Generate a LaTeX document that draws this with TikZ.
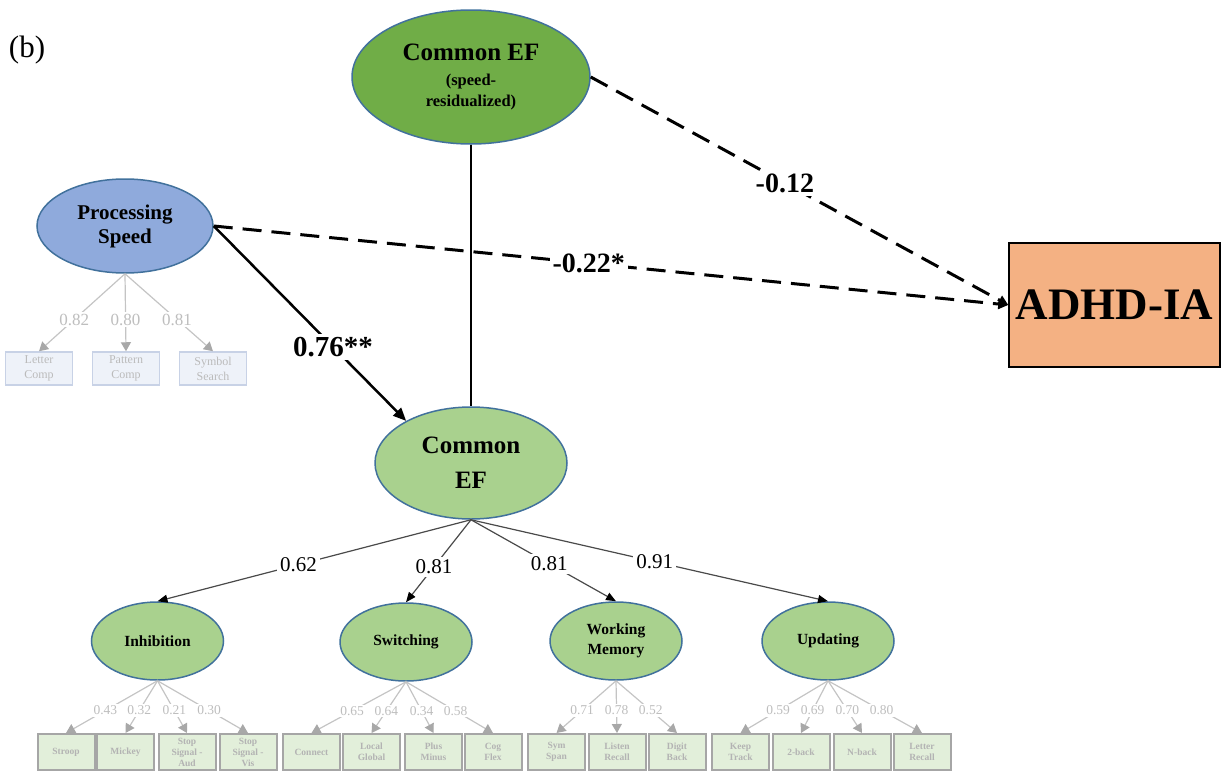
\documentclass[tikz,border=0pt]{standalone}
\usepackage{fontspec}
\setmainfont{Liberation Serif}
\usetikzlibrary{shapes.geometric,arrows.meta}
\definecolor{ebord}{HTML}{41719C}
\definecolor{gdark}{HTML}{70AD47}
\definecolor{glight}{HTML}{A9D18E}
\definecolor{pblue}{HTML}{8FAADC}
\definecolor{orng}{HTML}{F4B183}
\definecolor{ibox}{HTML}{E2EFDA}
\definecolor{iboxd}{HTML}{A6A6A6}
\definecolor{itext}{HTML}{B3B3B3}
\definecolor{gline}{HTML}{C4C4C4}
\definecolor{gtip}{HTML}{A8A8A8}
\definecolor{pbox}{HTML}{EEF2F9}
\definecolor{pboxd}{HTML}{C8D2E6}
\definecolor{sline}{HTML}{4A4A4A}
\begin{document}
\begin{tikzpicture}[x=1pt,y=-1pt,
  lat/.style={ellipse, draw=ebord, line width=1.5pt, inner sep=0pt, align=center},
  sublat/.style={lat, fill=glight, minimum width=132pt, minimum height=78pt, font=\fontsize{15.5}{20}\selectfont\bfseries},
  indbox/.style={rectangle, draw=iboxd, fill=ibox, line width=2pt, minimum width=57pt, minimum height=36pt, inner sep=0pt, align=center, text=itext, font=\fontsize{9.5}{11}\selectfont\bfseries},
  psbox/.style={rectangle, draw=pboxd, fill=pbox, line width=1.5pt, minimum width=67pt, minimum height=33pt, inner sep=0pt, align=center, text=itext!90, font=\fontsize{12}{15}\selectfont},
  ldg/.style={draw=gline, line width=1.2pt, -{Triangle[length=9pt,width=10pt,color=gtip]}},
  ilab/.style={fill=white, inner sep=1.5pt, text=itext!85, font=\fontsize{13.5}{15}\selectfont, pos=0.57},
  pslab/.style={fill=white, inner sep=1.5pt, text=itext!85, font=\fontsize{17}{19}\selectfont, pos=0.59},
  subarrow/.style={draw=sline, line width=1.2pt, -{Triangle[length=10pt,width=8pt,color=black]}},
  sublab/.style={fill=white, inner sep=3pt, font=\fontsize{21}{24}\selectfont},
  bigdash/.style={line width=3pt, dash pattern=on 19pt off 10pt, -{Triangle[length=10pt,width=10pt]}},
  biglab/.style={fill=white, inner sep=3pt, font=\fontsize{28}{32}\selectfont\bfseries}
]
\useasboundingbox (0,0) rectangle (1225,771);

\node[font=\fontsize{31}{34}\selectfont] (lbl) at (27,50) {(b)};

% latent variables
\node[lat, fill=gdark, minimum width=238pt, minimum height=134pt, font=\fontsize{16.5}{21}\selectfont\bfseries] (top) at (471,77)
  {{\fontsize{25}{30}\selectfont Common EF}\\[4pt](speed-\\residualized)};
\node[lat, fill=pblue, minimum width=176pt, minimum height=94pt, font=\fontsize{21}{24}\selectfont\bfseries] (ps) at (125,226)
  {Processing\\Speed};
\node[lat, fill=glight, minimum width=192pt, minimum height=112pt, font=\fontsize{25}{35}\selectfont\bfseries] (cef) at (471,463)
  {Common\\EF};
\node[draw=black, line width=1.5pt, fill=orng, minimum width=211pt, minimum height=124pt, font=\fontsize{45}{50}\selectfont\bfseries] (adhd) at (1114.5,305) {ADHD-IA};

\node[sublat] (inh) at (157.5,641) {Inhibition};
\node[sublat] (sw) at (406,642) {Switching};
\node[sublat] (wm) at (616,641) {Working\\Memory};
\node[sublat] (upd) at (828,641) {Updating};

% processing speed indicators
\node[psbox] (lc) at (39,368.5) {Letter\\Comp};
\node[psbox] (pc) at (126,368.5) {Pattern\\Comp};
\node[psbox] (ss) at (213,368.5) {Symbol\\Search};
\draw[ldg] (ps.south) -- node[pslab] {0.82} (lc.north);
\draw[ldg] (ps.south) -- node[pslab] {0.80} (pc.north);
\draw[ldg] (ps.south) -- node[pslab] {0.81} (ss.north);

% bottom indicators
\node[indbox] (b1) at (66,752) {Stroop};
\node[indbox] (b2) at (125.5,752) {Mickey};
\node[indbox] (b3) at (187,752) {Stop\\Signal -\\Aud};
\node[indbox] (b4) at (248,752) {Stop\\Signal -\\Vis};
\node[indbox] (b5) at (311.5,752) {Connect};
\node[indbox] (b6) at (371.5,752) {Local\\Global};
\node[indbox] (b7) at (433.5,752) {Plus\\Minus};
\node[indbox] (b8) at (493,752) {Cog\\Flex};
\node[indbox] (b9) at (556.5,752) {Sym\\Span};
\node[indbox] (b10) at (617,752) {Listen\\Recall};
\node[indbox] (b11) at (677,752) {Digit\\Back};
\node[indbox] (b12) at (740.5,752) {Keep\\Track};
\node[indbox] (b13) at (801,752) {2-back};
\node[indbox] (b14) at (862,752) {N-back};
\node[indbox] (b15) at (922,752) {Letter\\Recall};

\draw[ldg] (inh.south) -- node[ilab] {0.43} (b1.north);
\draw[ldg] (inh.south) -- node[ilab] {0.32} (b2.north);
\draw[ldg] (inh.south) -- node[ilab] {0.21} (b3.north);
\draw[ldg] (inh.south) -- node[ilab] {0.30} (b4.north);
\draw[ldg] (sw.south) -- node[ilab] {0.65} (b5.north);
\draw[ldg] (sw.south) -- node[ilab] {0.64} (b6.north);
\draw[ldg] (sw.south) -- node[ilab] {0.34} (b7.north);
\draw[ldg] (sw.south) -- node[ilab] {0.58} (b8.north);
\draw[ldg] (wm.south) -- node[ilab] {0.71} (b9.north);
\draw[ldg] (wm.south) -- node[ilab] {0.78} (b10.north);
\draw[ldg] (wm.south) -- node[ilab] {0.52} (b11.north);
\draw[ldg] (upd.south) -- node[ilab] {0.59} (b12.north);
\draw[ldg] (upd.south) -- node[ilab] {0.69} (b13.north);
\draw[ldg] (upd.south) -- node[ilab] {0.70} (b14.north);
\draw[ldg] (upd.south) -- node[ilab] {0.80} (b15.north);

% common EF to subfactors
\draw[subarrow] (cef.south) -- node[sublab, pos=0.55] {0.62} (inh.north);
\draw[subarrow] (cef.south) -- node[sublab, pos=0.57] {0.81} (sw.north);
\draw[subarrow] (cef.south) -- node[sublab, pos=0.54] {0.81} (wm.north);
\draw[subarrow] (cef.south) -- node[sublab, pos=0.515] {0.91} (upd.north);

% structural paths
\draw[line width=1.5pt] (top.south) -- (cef.north);
\draw[bigdash] (ps.east) -- node[biglab, pos=0.472] {-0.22*} (adhd.west);
\draw[bigdash] (top.east) -- node[biglab, pos=0.465] {-0.12} (adhd.west);
\draw[line width=2.5pt, -{Triangle[length=13pt,width=11pt]}] (ps.east) -- node[biglab, pos=0.62, font=\fontsize{29}{32}\selectfont\bfseries] {0.76**} (cef.147);
\end{tikzpicture}
\end{document}
